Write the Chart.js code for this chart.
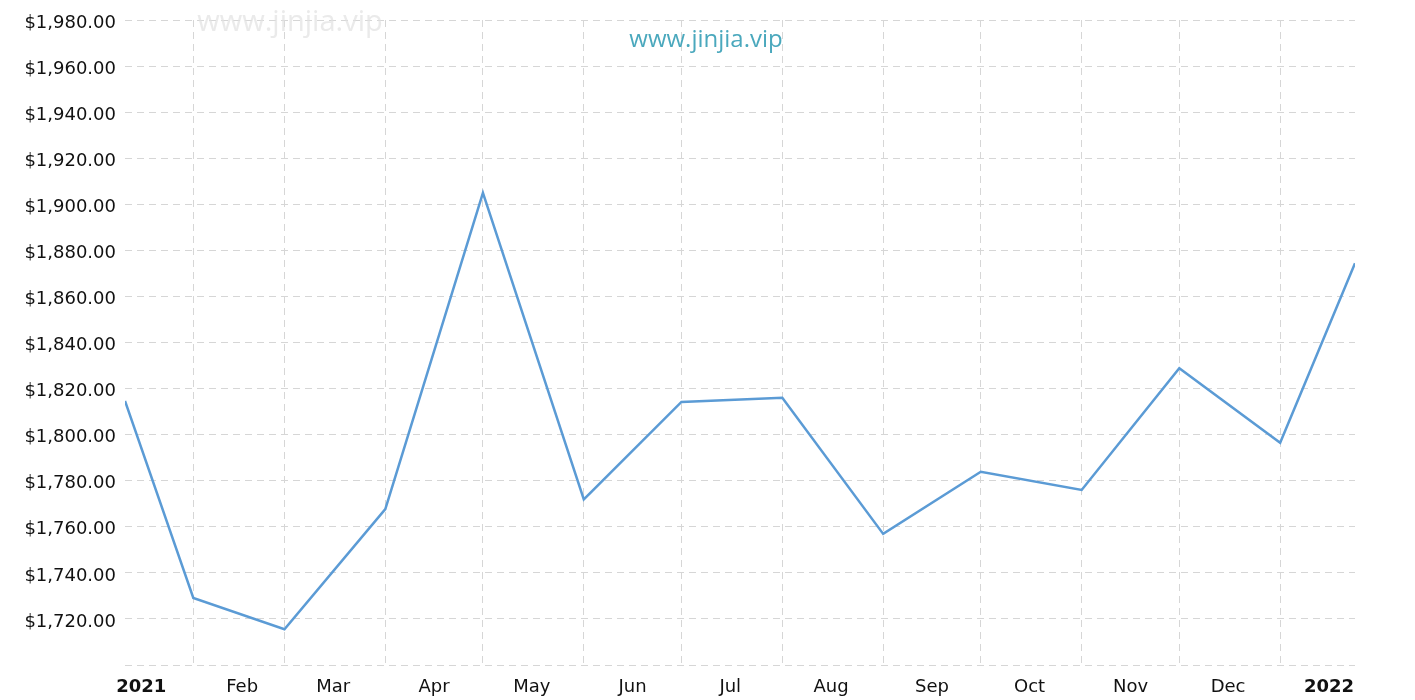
<!DOCTYPE html>
<html>
<head>
<meta charset="utf-8">
<script src="https://cdn.jsdelivr.net/npm/chart.js@4"></script>
<style>
  html, body { margin: 0; padding: 0; background: #fff; }
  #wrap { width: 1415px; height: 700px; }
</style>
</head>
<body>
<div id="wrap"><canvas id="myChart"></canvas></div>
<script>
// price data (month-end closes, plus the clipped edge points)
const dates = ['2021-01-10', '2021-01-31', '2021-02-28', '2021-03-31', '2021-04-30', '2021-05-31', '2021-06-30',
  '2021-07-31', '2021-08-31', '2021-09-30', '2021-10-31', '2021-11-30', '2021-12-31', '2022-01-23'];
const prices = [1814.6, 1729.1, 1715.5, 1767.7, 1905.0, 1771.9, 1814.2,
  1816.0, 1756.9, 1783.9, 1776.0, 1828.8, 1796.5, 1874.4];

// x axis: grid lines at month ends, labels mid-month
const gridDates = ['2021-01-31', '2021-02-28', '2021-03-31', '2021-04-30', '2021-05-31', '2021-06-30',
  '2021-07-31', '2021-08-31', '2021-09-30', '2021-10-31', '2021-11-30', '2021-12-31'];
const labelDates = ['2021-01-15', '2021-02-15', '2021-03-15', '2021-04-15', '2021-05-15', '2021-06-15',
  '2021-07-15', '2021-08-15', '2021-09-15', '2021-10-15', '2021-11-15', '2021-12-15', '2022-01-15'];
const monthLabels = ['2021', 'Feb', 'Mar', 'Apr', 'May', 'Jun', 'Jul', 'Aug', 'Sep', 'Oct', 'Nov', 'Dec', '2022'];

const yMin = 1700, yMax = 1980, yStep = 20;
const watermark = 'www.jinjia.vip';

const origin = Date.UTC(2021, 0, 1);
function dayNum(s) {
  return Math.round((Date.parse(s + 'T00:00:00Z') - origin) / 86400000);
}
const gridDays = gridDates.map(dayNum);
const labelDays = labelDates.map(dayNum);
const points = dates.map((d, i) => ({ x: dayNum(d), y: prices[i] }));

const font = 'DejaVu Sans';
const gridColor = '#d6d6d6';

const watermarkPlugin = {
  id: 'watermark',
  afterDatasetsDraw(chart) {
    const c = chart.ctx;
    c.save();
    c.textAlign = 'center';
    c.textBaseline = 'middle';
    c.font = '29px "Open Sans"';
    c.fillStyle = 'rgba(225,225,225,0.7)';
    c.fillText(watermark, 290, 23);
    c.font = '24px "Open Sans"';
    c.fillStyle = '#4aa8bd';
    c.fillText(watermark, 706, 40);
    c.restore();
  }
};

var ctx = document.getElementById('myChart').getContext('2d');

var myChart = new Chart(ctx, {
  type: 'line',
  data: {
    datasets: [{
      data: points,
      borderColor: '#5b9bd5',
      borderWidth: 2.5,
      pointRadius: 0,
      tension: 0,
      fill: false
    }]
  },
  options: {
    responsive: true,
    maintainAspectRatio: false,
    animation: false,
    events: [],
    layout: { padding: { top: 20, right: 60, left: 0, bottom: 0 } },
    plugins: { legend: { display: false }, tooltip: { enabled: false } },
    scales: {
      x: {
        type: 'linear',
        min: dayNum(dates[0]),
        max: dayNum(dates[dates.length - 1]),
        afterBuildTicks: (scale) => {
          scale.ticks = gridDays.concat(labelDays).map(v => ({ value: v }));
        },
        afterFit: (scale) => { scale.height = 35; },
        grid: {
          drawTicks: false,
          color: (c) => (c.tick && gridDays.includes(c.tick.value)) ? gridColor : 'rgba(0,0,0,0)',
          lineWidth: 1
        },
        border: { display: false, dash: [7, 5] },
        ticks: {
          autoSkip: false,
          maxRotation: 0,
          padding: 12,
          color: '#111',
          font: (c) => ({
            family: font,
            size: 18,
            weight: (c.tick && /^\d{4}$/.test(c.tick.label)) ? 'bold' : 'normal'
          }),
          callback: (v) => {
            const i = labelDays.indexOf(v);
            return i >= 0 ? monthLabels[i] : '';
          }
        }
      },
      y: {
        min: yMin,
        max: yMax,
        afterFit: (scale) => { scale.width = 125; },
        grid: { drawTicks: false, color: gridColor, lineWidth: 1 },
        border: { display: false, dash: [7, 5] },
        ticks: {
          stepSize: yStep,
          padding: 9,
          labelOffset: 3,
          color: '#111',
          font: { family: font, size: 18 },
          callback: (v) => v === yMin ? '' : '$' + v.toLocaleString('en-US', { minimumFractionDigits: 2, maximumFractionDigits: 2 })
        }
      }
    }
  },
  plugins: [watermarkPlugin]
});
</script>
</body>
</html>
